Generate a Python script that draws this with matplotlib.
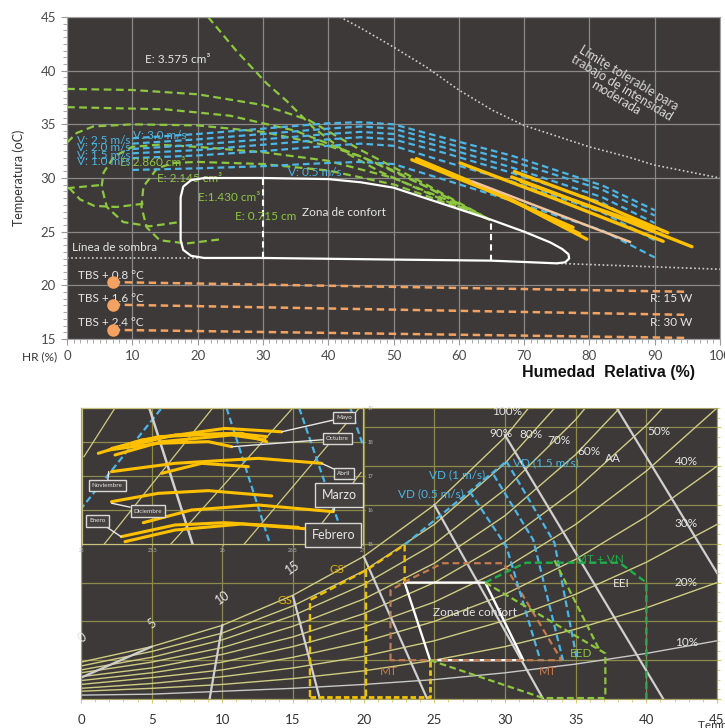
import matplotlib
matplotlib.use("Agg")
import matplotlib.pyplot as plt
from matplotlib.ticker import MultipleLocator

plt.rcParams['font.family'] = ['Lato', 'DejaVu Sans']

FONDO = '#3c3938'
VERDE = '#8dc63f'
AZUL = '#4cb6e6'
NARANJA = '#f4a261'
ORO = '#ffc000'
DURAZNO = '#f3c49b'
BLANCO = '#e6e6e6'
CAQUI = '#cfcc82'
REJILLA2 = '#8e8a4c'
MARRON = '#c57b4f'
VERDE_OSC = '#1fae4a'

# ---------------- grafico superior (HR %, temperatura oC) ----------------
confort_hr = [21, 30, 40, 45, 50, 55, 60, 65, 70, 74, 75.8, 76.8, 76.9, 76.3, 75, 65, 50, 30, 21, 19, 17.8, 17.4, 17.4, 17.8, 19, 21]
confort_t = [30.0, 30.0, 29.9, 29.6, 29.1, 28.1, 27.1, 26.1, 25.0, 24.0, 23.4, 22.9, 22.5, 22.15, 22.05, 22.3, 22.4, 22.55, 22.55, 22.75, 23.3, 24.2, 28.2, 29.2, 29.8, 30.0]
divisor_hr = [30, 65]
divisor_t0 = [22.55, 22.3]
divisor_t1 = [30.0, 26.1]

sombra_izq_hr = [0, 20]
sombra_izq_t = [22.55, 22.55]
sombra_der_hr = [75, 100]
sombra_der_t = [22.05, 21.5]

limite_hr = [41.8, 44.9, 50, 55.1, 60, 65.2, 70, 75.5, 80, 85.7, 90, 95, 100]
limite_t = [45.0, 44.0, 42.2, 40.3, 38.2, 36.3, 34.9, 33.8, 32.9, 32.0, 31.2, 30.6, 30.0]

# curvas de evaporacion (verde)
g_recta_hr = [21.6, 26.0, 30.6, 33.6, 37.7, 42.9, 47.9, 53.0, 58.2, 64.8]
g_recta_t = [45.0, 41.8, 38.8, 37.2, 34.7, 32.3, 30.6, 29.2, 27.8, 26.1]
g1_hr = [0, 10, 20, 30, 37, 41, 45, 50, 55, 60, 64.8]
g1_t = [38.3, 38.2, 37.8, 36.8, 35.4, 34.0, 32.6, 31.0, 29.4, 27.7, 26.1]
g2_hr = [0, 15, 25, 35, 45, 50, 55, 60, 64.8]
g2_t = [36.6, 36.4, 35.8, 34.4, 32.0, 30.6, 29.2, 27.6, 26.1]
g3_hr = [0, 1.5, 4, 10, 20, 30, 40, 45, 50, 55, 60, 64.8]
g3_t = [33.3, 34.2, 34.8, 35.0, 34.9, 34.3, 33.0, 32.0, 30.7, 29.2, 27.6, 26.1]
lazo1_hr = [64.8, 58, 50, 40, 30, 20, 14, 10, 7.2, 5.6, 5.3, 6.1, 8.6, 12.7, 17.3]
lazo1_t = [26.1, 28.0, 30.0, 31.6, 32.4, 32.9, 33.1, 32.9, 32.0, 30.5, 29.2, 27.3, 25.9, 25.5, 25.9]
lazo2_hr = [64.8, 58, 50, 40, 30, 20, 16.3, 13.8, 11.7, 11.4, 12.2, 14.2, 18.3, 23.7]
lazo2_t = [26.1, 27.7, 29.4, 30.7, 31.3, 31.5, 31.4, 30.9, 29.2, 27.3, 25.4, 24.2, 23.9, 24.3]
corta_hr = [0, 5.3]
corta_t = [29.05, 29.35]
curva_s_hr = [0.3, 2, 4.2, 7.6, 11.7]
curva_s_t = [29.1, 28.0, 27.4, 27.3, 27.6]

# velocidad del viento (azul)
v_hr = [10, 20, 30, 40, 45, 50, 58, 68, 82, 90]
v30_t = [33.7, 34.1, 34.6, 35.1, 35.2, 35.0, 33.7, 32.1, 29.3, 27.0]
v25_t = [33.2, 33.6, 34.1, 34.6, 34.8, 34.6, 33.25, 31.6, 28.9, 26.5]
v20_t = [32.7, 33.1, 33.6, 34.1, 34.3, 34.1, 32.8, 31.0, 28.2, 25.8]
v15_t = [32.3, 32.6, 33.1, 33.6, 33.8, 33.6, 32.3, 30.5, 27.7, 25.0]
v10_t = [31.85, 32.1, 32.5, 33.0, 33.2, 33.0, 31.5, 29.7, 26.8, 24.2]
v05_t = [30.75, 30.9, 31.1, 31.4, 31.5, 31.3, 29.8, 27.9, 25.1, 22.6]

# radiacion (naranja)
tbs_hr = [7, 95]
tbs_t_ini = [20.3, 18.2, 15.85]
tbs_t_fin = [19.4, 17.25, 15.1]
tbs_textos = ["TBS + 0.8 °C", "TBS + 1.6 °C", "TBS + 2.4 °C"]

# datos mensuales (amarillo)
am1_hr = [52.8, 65, 77.5]
am1_t = [31.7, 28.7, 25.4]
am2_hr = [53.5, 66, 79.6]
am2_t = [31.8, 28.6, 24.3]
am3_hr = [58, 68, 78.5]
am3_t = [30.6, 28.0, 24.8]
am4_hr = [60.2, 75, 91.3]
am4_t = [31.4, 28.0, 24.1]
am5_hr = [68.1, 82, 95.7]
am5_t = [30.1, 26.9, 23.6]
am6_hr = [68.5, 80, 92.0]
am6_t = [30.6, 28.0, 24.9]
am7_hr = [69.5, 80, 90.0]
am7_t = [29.7, 27.4, 25.3]
durazno_hr = [62.2, 86.2]
durazno_t = [29.65, 24.05]

# ---------------- grafico inferior (psicrometrico) ----------------
temps = [0, 5, 10, 15, 20, 25, 30, 35, 40, 45]
hr_100 = [3.8, 5.4, 7.6, 10.7, 14.7, 20.0, 27.0, 36.0]
hr_90 = [3.4, 4.9, 6.8, 9.6, 13.2, 18.0, 24.3, 32.4]
hr_80 = [3.0, 4.3, 6.1, 8.6, 11.8, 16.0, 21.6, 28.8, 37.6]
hr_70 = [2.7, 3.8, 5.3, 7.5, 10.3, 14.0, 18.9, 25.2, 32.9]
hr_60 = [2.3, 3.2, 4.6, 6.4, 8.8, 12.0, 16.2, 21.6, 28.2, 36.0]
hr_50 = [1.9, 2.7, 3.8, 5.4, 7.4, 10.0, 13.5, 18.0, 23.5, 30.0]
hr_40 = [1.5, 2.2, 3.0, 4.3, 5.9, 8.0, 10.8, 14.4, 18.8, 24.0]
hr_30 = [1.1, 1.6, 2.3, 3.2, 4.4, 6.0, 8.1, 10.8, 14.1, 18.0]
hr_20 = [0.8, 1.1, 1.5, 2.1, 2.9, 4.0, 5.4, 7.2, 9.4, 12.0]
hr_10 = [0.4, 0.5, 0.8, 1.1, 1.5, 2.0, 2.7, 3.6, 4.7, 6.0]

blancas_t = [[0, 5.0], [9.1, 10.0], [15.0, 16.9], [20.0, 24.5], [25.0, 32.7], [30.0, 41.2], [37.9, 45.0]]
blancas_w = [[2.2, 5.4], [0, 7.6], [10.6, 0], [14.7, 0], [20.0, 0], [27.2, 0], [30.0, 13.0]]

zc_t = [22.9, 28.6, 31.3, 24.7, 22.9]
zc_w = [12.0, 12.0, 4.0, 4.0, 12.0]

gs_t = [16.2, 16.2, 20.2, 22.9, 22.9]
gs_w = [0.2, 10.2, 13.3, 15.9, 12.0]
gs2_t = [20.2, 20.2]
gs2_w = [13.3, 0.2]
gs_base_t = [16.2, 24.7, 24.7]
gs_base_w = [0.2, 0.2, 4.0]

mt_t = [21.9, 21.9, 23.2, 25.6, 29.9, 34.0, 21.9]
mt_w = [4.0, 11.2, 12.3, 14.0, 14.0, 4.0, 4.0]

vd_borde_t = [22.9, 30.1]
vd_borde_w = [15.9, 24.5]
vd05_t = [27.5, 30.1, 32.5]
vd05_w = [21.4, 15.7, 4.0]
vd1_t = [29.2, 32.0, 34.1]
vd1_w = [23.1, 16.4, 4.0]
vd15_t = [30.1, 33.5, 35.1]
vd15_w = [24.5, 16.1, 4.0]

eei_t = [28.6, 30.8, 31.5, 38.1, 40.0, 40.0]
eei_w = [12.0, 13.6, 14.05, 14.05, 12.0, 0]
eed_a_t = [28.6, 37.1, 37.1]
eed_a_w = [12.0, 4.7, 0.1]
eed_b_t = [33.5, 36.7]
eed_b_w = [14.3, 5.0]
eed_c_t = [24.7, 32.7, 37.1]
eed_c_w = [4.0, 0.1, 0.1]

etiquetas_hr = ["100%", "90%", "80%", "70%", "60%", "50%", "40%", "30%", "20%", "10%"]
etiquetas_hr_t = [29.1, 28.9, 31.0, 33.0, 35.1, 40.1, 42.0, 42.0, 42.0, 42.0]
etiquetas_hr_w = [29.6, 27.4, 27.3, 26.6, 25.5, 27.6, 24.5, 18.1, 12.0, 5.8]
bulbo_txt = ["0", "5", "10", "15"]
bulbo_t = [0.1, 5.0, 10.0, 15.0]
bulbo_w = [6.3, 7.8, 10.5, 13.5]

# ---------------- recuadro (meses) ----------------
meses_x = [[25.116, 25.425, 26.017, 26.421],
           [25.21, 25.543, 26.089, 26.314],
           [25.235, 25.567, 26.065, 26.302],
           [25.353, 25.662, 26.136, 26.314],
           [25.19, 25.543, 25.899, 26.065],
           [25.21, 25.662, 26.255, 26.706],
           [25.567, 25.851, 26.184],
           [25.21, 25.543, 25.899, 26.35],
           [25.436, 25.78, 26.255, 26.789],
           [25.28, 25.662, 26.017, 26.54],
           [25.306, 25.662, 26.136, 26.717]]
meses_y = [[17.667, 18.06, 18.40, 18.30],
           [17.81, 18.157, 18.255, 18.157],
           [17.618, 18.01, 18.206, 18.06],
           [17.91, 18.206, 18.255, 18.01],
           [17.765, 17.96, 18.01, 17.863],
           [17.128, 17.373, 17.52, 17.373],
           [17.078, 17.373, 17.275],
           [16.245, 16.49, 16.569, 16.412],
           [15.627, 16.0, 16.147, 15.95],
           [15.216, 15.559, 15.627, 15.49],
           [15.069, 15.41, 15.588, 15.41]]
rec_azul_x = [[24.986, 25.567], [26.029, 26.338], [26.546, 26.878], [26.91, 27.0]]
rec_azul_y = [[16.0, 19.0], [19.0, 15.0], [19.0, 15.0], [19.0, 17.9]]
rec_caqui_x = [[25.014, 25.235], [25.159, 25.93], [25.633, 26.5], [26.155, 26.974], [26.594, 26.986]]
rec_caqui_y = [[17.57, 19.0], [15.0, 19.0], [15.0, 19.0], [15.0, 19.0], [15.0, 17.1]]
rec_blanca_x = [25.479, 25.787]
rec_blanca_y = [19.0, 15.0]
nombres = ["Mayo", "Octubre", "Abril", "Marzo", "Febrero", "Noviembre", "Diciembre", "Enero"]
caja_x = [26.868, 26.818, 26.865, 26.829, 26.79, 25.18, 25.47, 25.11]
caja_y = [18.72, 18.10, 17.07, 16.44, 15.26, 16.71, 15.97, 15.68]
punta_x = [26.421, 26.065, 26.706, 26.789, None, 25.19, 25.21, 25.28]
punta_y = [18.30, 17.86, 17.37, 15.95, None, 17.13, 16.2, 15.21]
caja_tam = [4.5, 4.5, 4.5, 9, 9, 4.5, 4.5, 4.5]


fig = plt.figure(figsize=(7.25, 7.28), dpi=100)

# ======== superior ========
ax = fig.add_axes([67 / 725, 1 - 339 / 728, 653 / 725, 322 / 728])
ax.set_facecolor(FONDO)
ax.set_xlim(0, 100)
ax.set_ylim(15, 45)
ax.set_xticks(range(0, 101, 10))
ax.set_yticks(range(15, 46, 5))
ax.xaxis.set_minor_locator(MultipleLocator(1))
ax.yaxis.set_minor_locator(MultipleLocator(0.625))
ax.grid(True, color='#8a8888', lw=0.9)
ax.set_axisbelow(True)
ax.tick_params(which='both', colors='#9a9a9a', labelcolor='#4a4a4a', labelsize=9.5)
ax.tick_params(which='major', length=4, pad=4)
ax.tick_params(which='minor', length=3)
for s in ax.spines.values():
    s.set_color('#a0a0a0')
ax.set_ylabel("Temperatura (oC)", fontsize=9, color='#333333')
ax.yaxis.set_label_coords(-42 / 653, 0.5)
fig.text(22 / 725, 1 - 357 / 728, "HR (%)", fontsize=8.5, va='center', color='#333333')

gd = dict(color=VERDE, lw=1.6, dashes=(3.5, 2))
for hx, ty in [(g_recta_hr, g_recta_t), (g1_hr, g1_t), (g2_hr, g2_t), (g3_hr, g3_t),
               (lazo1_hr, lazo1_t), (lazo2_hr, lazo2_t), (corta_hr, corta_t), (curva_s_hr, curva_s_t)]:
    ax.plot(hx, ty, **gd)

for ty in [v30_t, v25_t, v20_t, v15_t, v10_t, v05_t]:
    ax.plot(v_hr, ty, color=AZUL, lw=1.6, dashes=(3, 1.8))

for t0, t1 in zip(tbs_t_ini, tbs_t_fin):
    ax.plot(tbs_hr, [t0, t1], color=NARANJA, lw=1.8, dashes=(3, 1.8))
    ax.plot(tbs_hr[0], t0, 'o', color=NARANJA, ms=8, zorder=5)

ax.plot(limite_hr, limite_t, color='#cfcfcf', lw=1.2, ls=(0, (1, 1.5)))
ax.plot(sombra_izq_hr, sombra_izq_t, color='#cfcfcf', lw=1.2, ls=(0, (1, 1.5)))
ax.plot(sombra_der_hr, sombra_der_t, color='#cfcfcf', lw=1.2, ls=(0, (1, 1.5)))

for hx, ty in [(am1_hr, am1_t), (am2_hr, am2_t), (am3_hr, am3_t), (am4_hr, am4_t),
               (am5_hr, am5_t), (am6_hr, am6_t), (am7_hr, am7_t)]:
    ax.plot(hx, ty, color=ORO, lw=2.4, solid_capstyle='round')
ax.plot(durazno_hr, durazno_t, color=DURAZNO, lw=1.8)

ax.plot(confort_hr, confort_t, color='white', lw=1.6, zorder=4)
for h, a, b in zip(divisor_hr, divisor_t0, divisor_t1):
    ax.plot([h, h], [a, b], color='white', lw=1.5, dashes=(3, 2))

ax.text(11.9, 41.0, "E: 3.575 cm³", color=BLANCO, fontsize=8.5, va='center')
ax.text(8.1, 31.4, "E: 2.860 cm³", color=VERDE, fontsize=8.5, va='center')
ax.text(13.8, 30.0, "E: 2.145 cm³", color=VERDE, fontsize=8.5, va='center')
ax.text(20.1, 28.2, "E:1.430 cm³", color=VERDE, fontsize=8.5, va='center')
ax.text(25.7, 26.4, "E: 0.715 cm", color=VERDE, fontsize=8.5, va='center')
ax.text(10.1, 34.0, "V: 3.0 m/s", color=AZUL, fontsize=8.5, va='center')
ax.text(1.5, 33.45, "V: 2.5 m/s", color=AZUL, fontsize=8.5, va='center')
ax.text(1.5, 32.8, "V: 2.0 m/s", color=AZUL, fontsize=8.5, va='center')
ax.text(1.5, 32.1, "V: 1.5 m/s", color=AZUL, fontsize=8.5, va='center')
ax.text(1.5, 31.5, "V: 1.0 m/s", color=AZUL, fontsize=8.5, va='center')
ax.text(33.8, 30.5, "V: 0.5 m/s", color=AZUL, fontsize=8.5, va='center')
ax.text(36.0, 26.8, "Zona de confort", color=BLANCO, fontsize=8.5, va='center')
ax.text(0.8, 23.5, "Línea de sombra", color=BLANCO, fontsize=8.5, va='center')
for txt, ty in zip(tbs_textos, [20.95, 18.8, 16.5]):
    ax.text(1.7, ty, txt, color=BLANCO, fontsize=8.5, va='center')
ax.text(89.3, 18.8, "R: 15 W", color=BLANCO, fontsize=8.5, va='center')
ax.text(89.3, 16.5, "R: 30 W", color=BLANCO, fontsize=8.5, va='center')
ax.text(85.0, 38.4, "Límite tolerable para\ntrabajo de intensidad\nmoderada", color='#d9d9d9',
        fontsize=9, rotation=-31, ha='center', va='center', multialignment='center',
        linespacing=1.0, rotation_mode='anchor')

# ======== inferior ========
ax2 = fig.add_axes([81 / 725, 1 - 699 / 728, 636 / 725, 291 / 728])
ax2.set_facecolor(FONDO)
ax2.set_xlim(0, 45)
ax2.set_ylim(0, 30)
ax2.set_xticks(range(0, 46, 5))
ax2.set_yticks(range(0, 31, 4))
ax2.xaxis.set_minor_locator(MultipleLocator(1))
ax2.yaxis.set_minor_locator(MultipleLocator(1))
ax2.yaxis.tick_right()
ax2.set_yticklabels([])
ax2.grid(True, which='major', color=REJILLA2, lw=0.9)
ax2.set_axisbelow(True)
ax2.tick_params(which='both', colors='#d6d070', labelcolor='#333333', labelsize=9.5)
ax2.tick_params(which='major', length=3, pad=8)
ax2.tick_params(which='minor', length=2)
for s in ax2.spines.values():
    s.set_color('#a6a160')

for serie, col in [(hr_100, CAQUI), (hr_90, CAQUI), (hr_80, CAQUI), (hr_70, CAQUI), (hr_60, CAQUI),
                   (hr_50, CAQUI), (hr_40, CAQUI), (hr_30, CAQUI), (hr_20, CAQUI), (hr_10, '#c8c8c8')]:
    ax2.plot(temps[:len(serie)], serie, color=col, lw=1.0)

for bt, bw in zip(blancas_t, blancas_w):
    ax2.plot(bt, bw, color='#d0d0d0', lw=1.6)
ax2.plot(zc_t, zc_w, color='white', lw=1.7)

ax2.plot(gs_t, gs_w, color='#f2c200', lw=1.7, dashes=(3, 1.6))
ax2.plot(gs2_t, gs2_w, color='#f2c200', lw=1.7, dashes=(3, 1.6))
ax2.plot(gs_base_t, gs_base_w, color='#f2c200', lw=2.0, dashes=(2, 1))
ax2.plot(mt_t, mt_w, color=MARRON, lw=1.6, dashes=(3, 1.8))
for tt, ww in [(vd_borde_t, vd_borde_w), (vd05_t, vd05_w), (vd1_t, vd1_w), (vd15_t, vd15_w)]:
    ax2.plot(tt, ww, color=AZUL, lw=1.6, dashes=(3, 1.6))
ax2.plot(eei_t, eei_w, color=VERDE_OSC, lw=1.7, dashes=(3, 1.6))
for tt, ww in [(eed_a_t, eed_a_w), (eed_b_t, eed_b_w), (eed_c_t, eed_c_w)]:
    ax2.plot(tt, ww, color=VERDE, lw=1.6, dashes=(3, 1.6))

for txt, tx, wy in zip(etiquetas_hr, etiquetas_hr_t, etiquetas_hr_w):
    ax2.text(tx, wy, txt, color=BLANCO, fontsize=8.5, va='center')
for txt, tx, wy in zip(bulbo_txt, bulbo_t, bulbo_w):
    ax2.text(tx, wy, txt, color=BLANCO, fontsize=9, ha='center', va='center', rotation=35)
ax2.text(27.9, 8.9, "Zona de confort", color=BLANCO, fontsize=8.5, ha='center', va='center')
ax2.text(21.8, 2.8, "MT", color=MARRON, fontsize=8.5, ha='center', va='center')
ax2.text(33.0, 2.8, "MT", color=MARRON, fontsize=8.5, ha='center', va='center')
ax2.text(14.4, 10.2, "GS", color='#e0b000', fontsize=8.5, ha='center', va='center')
ax2.text(18.2, 13.3, "GS'", color='#e0b000', fontsize=8.5, ha='center', va='center')
ax2.text(22.4, 21.2, "VD (0.5 m/s)", color=AZUL, fontsize=8.5, va='center')
ax2.text(24.6, 23.1, "VD (1 m/s)", color=AZUL, fontsize=8.5, va='center')
ax2.text(30.6, 24.3, "VD (1.5 m/s)", color=AZUL, fontsize=8.5, va='center')
ax2.text(35.0, 14.4, "MT + VN", color=VERDE_OSC, fontsize=8.5, va='center')
ax2.text(34.6, 4.7, "EED", color=VERDE, fontsize=8.5, va='center')
ax2.text(37.6, 11.9, "EEI", color=BLANCO, fontsize=8.5, va='center')
ax2.text(37.1, 24.8, "AA", color=BLANCO, fontsize=8.5, va='center')

fig.text(522 / 725, 1 - 372 / 728, "Humedad  Relativa (%)", fontsize=11.5, fontweight='bold',
         family='Liberation Sans', va='center', color='#111111')
fig.text(698 / 725, 1 - 725 / 728, "Temperatura (°C)", fontsize=8.5, va='center', color='#333333')

# ======== recuadro ========
ax3 = fig.add_axes([82 / 725, 1 - 544 / 728, 281 / 725, 136 / 728])
ax3.set_facecolor(FONDO)
ax3.set_xlim(25, 27)
ax3.set_ylim(15, 19)
ax3.set_xticks([25, 25.5, 26, 26.5, 27])
ax3.set_xticklabels(['25', '25.5', '26', '26.5', '27'])
ax3.set_yticks([15, 16, 17, 18, 19])
ax3.yaxis.tick_right()
ax3.grid(True, color=REJILLA2, lw=0.9)
ax3.set_axisbelow(True)
ax3.tick_params(colors='#a6a160', labelcolor='#bbbbbb', labelsize=3.5, length=1.5, pad=1.5)
for s in ax3.spines.values():
    s.set_color('#c8c27a')

for cx, cy in zip(rec_caqui_x, rec_caqui_y):
    ax3.plot(cx, cy, color=CAQUI, lw=0.9)
for cx, cy in zip(rec_azul_x, rec_azul_y):
    ax3.plot(cx, cy, color=AZUL, lw=1.6, dashes=(3, 1.6))
ax3.plot(rec_blanca_x, rec_blanca_y, color='#d0d0d0', lw=1.8)
for mx, my in zip(meses_x, meses_y):
    ax3.plot(mx, my, color=ORO, lw=2.2, solid_capstyle='round')

for nom, bx, by, px, py, tam in zip(nombres, caja_x, caja_y, punta_x, punta_y, caja_tam):
    caja = dict(boxstyle='square,pad=0.5', fc='#45413f', ec='#d8d8d8', lw=1.0)
    if px is None:
        ax3.text(bx, by, nom, color='#e8e8e8', fontsize=tam, ha='center', va='center', bbox=caja, zorder=6)
    else:
        ax3.annotate(nom, xy=(px, py), xytext=(bx, by), color='#e8e8e8', fontsize=tam,
                     ha='center', va='center', bbox=caja, zorder=6,
                     arrowprops=dict(arrowstyle='-', color='#e8e8e8', lw=1.0, shrinkA=0, shrinkB=0))

fig.savefig("out.png", dpi=100)
